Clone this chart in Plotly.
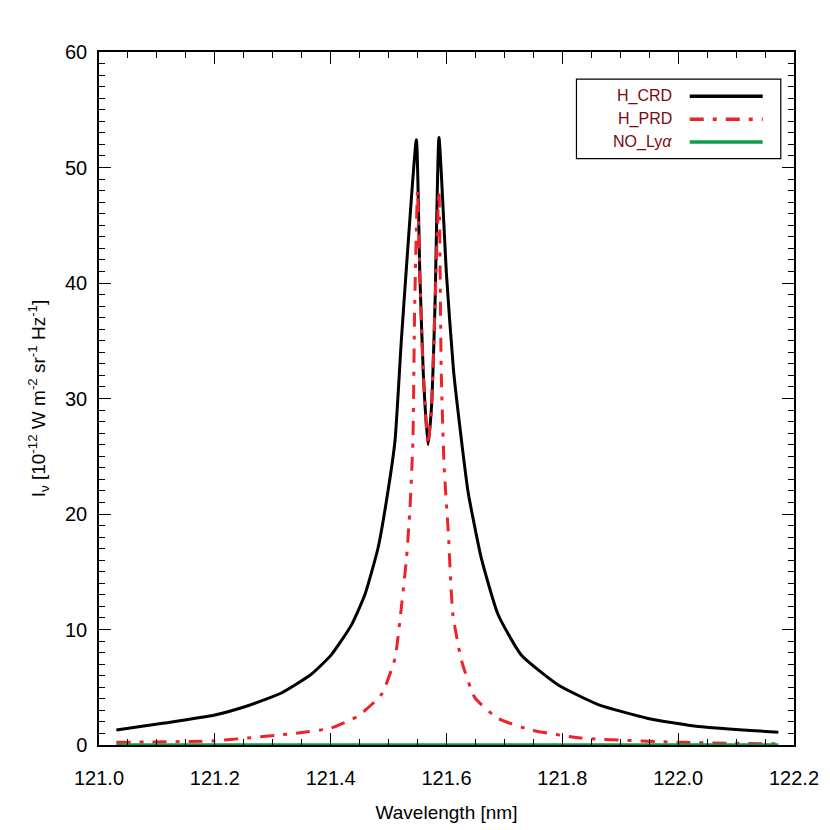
import plotly.graph_objects as go

# wavelength [nm] and intensity
crd_wl = [121.030, 121.113, 121.200, 121.257, 121.315, 121.366, 121.401, 121.436,
          121.459, 121.482, 121.499, 121.511, 121.522, 121.534, 121.548, 121.554,
          121.560, 121.568, 121.574, 121.580, 121.587, 121.600, 121.612, 121.622,
          121.637, 121.660, 121.689, 121.729, 121.793, 121.862, 121.948, 122.035, 122.173]
crd_val = [1.3, 1.9, 2.6, 3.4, 4.5, 6.1, 7.8, 10.4,
           13.0, 17.1, 22.0, 26.3, 35.0, 43.6, 52.4, 40.7,
           32.1, 26.0, 29.2, 37.8, 52.6, 40.7, 32.5, 28.0,
           22.0, 16.2, 11.3, 7.8, 5.2, 3.5, 2.3, 1.6, 1.1]

prd_wl = [121.030, 121.200, 121.344, 121.401, 121.447, 121.488, 121.511, 121.522,
          121.531, 121.537, 121.542, 121.545, 121.550, 121.554, 121.560, 121.568,
          121.574, 121.580, 121.587, 121.591, 121.596, 121.603, 121.611, 121.626,
          121.649, 121.689, 121.746, 121.832, 122.005, 122.173]
prd_val = [0.23, 0.37, 1.04, 1.47, 2.5, 4.4, 7.5, 11.9,
           16.2, 20.5, 26.3, 37.8, 48.0, 40.7, 32.1, 26.0,
           29.2, 37.8, 48.0, 32.1, 24.0, 18.5, 11.3, 7.3,
           4.1, 2.3, 1.3, 0.6, 0.23, 0.1]

no_wl = [121.030, 122.173]
no_val = [0.0, 0.0]

names = ["H_CRD", "H_PRD", "NO_Ly<i>α</i>"]
colors = ["black", "#ee2229", "#0a9e4a"]
dashes = ["solid", "14px,9px,4px,9px", "solid"]

fig = go.Figure()
fig.add_trace(go.Scatter(x=crd_wl, y=crd_val, mode="lines", name=names[0],
                         line=dict(color=colors[0], width=3, shape="spline", smoothing=0.5)))
fig.add_trace(go.Scatter(x=prd_wl, y=prd_val, mode="lines", name=names[1],
                         line=dict(color=colors[1], width=3, dash=dashes[1],
                                   shape="spline", smoothing=0.5)))
fig.add_trace(go.Scatter(x=no_wl, y=no_val, mode="lines", name=names[2],
                         line=dict(color=colors[2], width=3.5), cliponaxis=False))

axis_common = dict(showline=True, linecolor="black", linewidth=1.5, mirror="ticks",
                   ticks="inside", ticklen=12, tickcolor="black", showgrid=False,
                   zeroline=False, automargin=False,
                   tickfont=dict(size=20, color="black"))
fig.update_xaxes(range=[121.0, 122.2], dtick=0.2, tickformat=".1f", ticklabelstandoff=14,
                 minor=dict(dtick=0.05, ticks="inside", ticklen=6, tickcolor="black"),
                 title=dict(text="Wavelength [nm]", font=dict(size=19, color="black"),
                            standoff=18),
                 **axis_common)
fig.update_yaxes(range=[0, 60], dtick=10, ticklabelstandoff=6,
                 minor=dict(dtick=1, ticks="inside", ticklen=6, tickcolor="black"),
                 title=dict(text="I<sub>ν</sub> [10<sup>-12</sup> W m<sup>-2</sup> sr<sup>-1</sup> Hz<sup>-1</sup>]",
                            font=dict(size=19, color="black"), standoff=14),
                 **axis_common)

# legend drawn by hand: label on the left, line sample on the right
shapes = [dict(type="rect", xref="paper", yref="paper", x0=0.687, x1=0.981,
               y0=0.846, y1=0.961, line=dict(color="black", width=1.2),
               fillcolor="white", layer="above")]
annotations = []
rows_y = [0.936, 0.903, 0.870]
for nm, col, ds, yy in zip(names, colors, dashes, rows_y):
    annotations.append(dict(xref="paper", yref="paper", x=0.827, y=yy, text=nm,
                            showarrow=False, xanchor="right", yanchor="middle",
                            font=dict(size=16, color="#7a0a0a")))
    shapes.append(dict(type="line", xref="paper", yref="paper", x0=0.850, x1=0.955,
                       y0=yy, y1=yy, layer="above",
                       line=dict(color=col, width=3.5, dash=ds)))

fig.update_layout(
    width=830, height=830,
    margin=dict(l=91, r=44, t=44, b=93),
    plot_bgcolor="white", paper_bgcolor="white",
    font=dict(family="Liberation Sans, Arial, sans-serif"),
    showlegend=False, shapes=shapes, annotations=annotations,
)
fig.write_html("out.html")
